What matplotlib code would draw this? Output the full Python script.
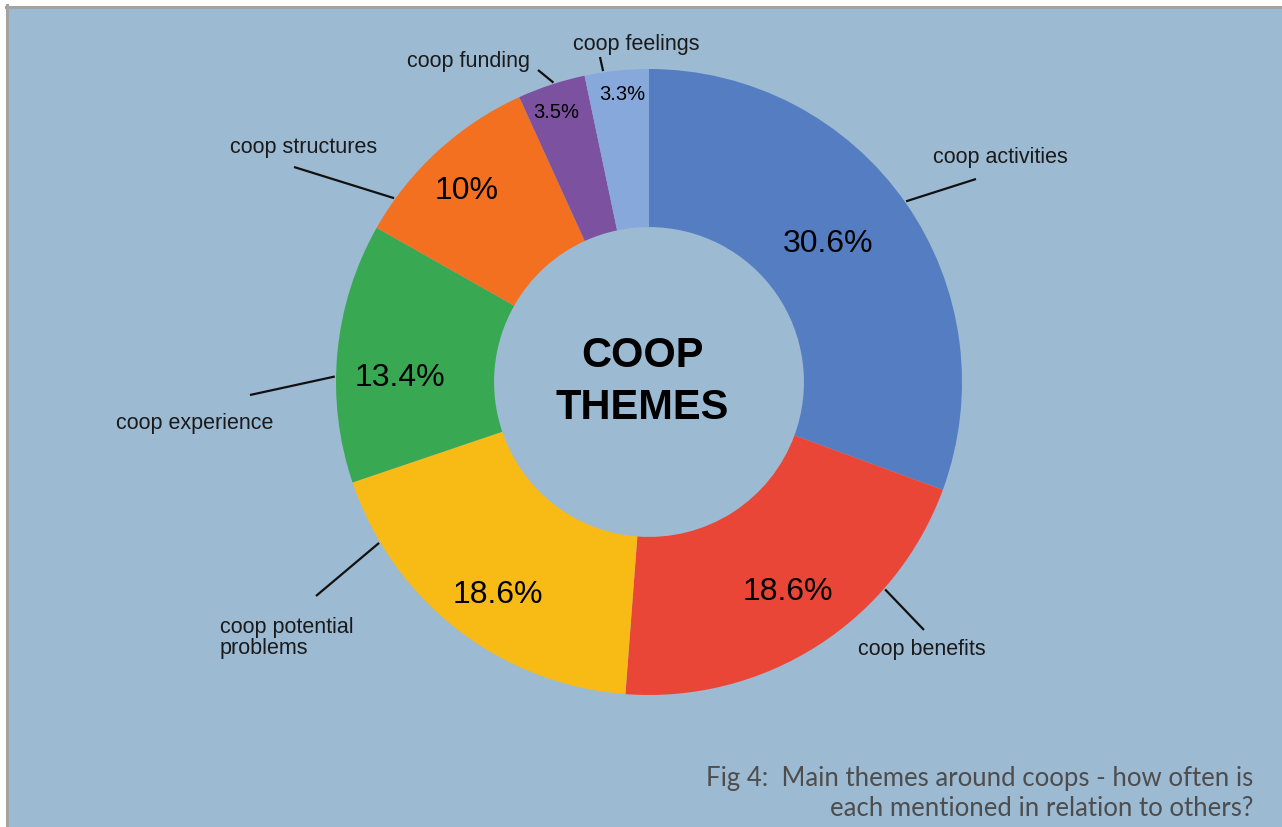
import numpy as np
import matplotlib
matplotlib.use('Agg')
import matplotlib.pyplot as plt
from matplotlib.patches import Rectangle

# data (wedge sizes, printed labels)
themes = ['coop activities', 'coop benefits', 'coop potential\nproblems',
          'coop experience', 'coop structures', 'coop funding', 'coop feelings']
shares = [30.6, 20.6, 18.6, 13.4, 10.0, 3.5, 3.3]
pct_text = ['30.6%', '18.6%', '18.6%', '13.4%', '10%', '3.5%', '3.3%']
colours = ['#557dc2', '#ea4637', '#f8bb15', '#39a852', '#f37021', '#7b51a0', '#86a8da']

# layout (pixels, y measured from top)
W, H = 1282, 828
cx, cy, R = 649, 383, 313
pct_xy = [(828, 244), (788, 592), (498, 595), (400, 378), (467, 191), (556, 113), (622, 94)]
pct_size = [23, 23, 23, 23, 23, 14.5, 14.5]
lead_ang = [35.1, -41.3, -149.2, 179.0, 144.2, 107.7, 98.4]
lead_end = [(976, 180), (924, 631), (316, 597), (250, 396), (294, 168), (538, 71), (600, 58)]
name_xy = [(933, 158), (858, 650), (220, 638), (116, 423), (230, 148), (407, 62), (573, 44)]

bg = '#9dbad3'
font = 'Liberation Sans'

def P(x, y):
    return x, H - y

fig = plt.figure(figsize=(W / 100, H / 100), dpi=100, facecolor='white')
ax = fig.add_axes([0, 0, 1, 1])
ax.patch.set_alpha(0)

# panel background with grey border on left and top
ax.add_patch(Rectangle((7, 0), W, H - 7, facecolor=bg, edgecolor='none', zorder=-10))
ax.plot([7, 7], [0, H - 6], color='#a3a3a3', lw=2.2, zorder=-5)
ax.plot([6, W], [H - 7.5, H - 7.5], color='#a3a3a3', lw=2.2, zorder=-5)

wedges, _ = ax.pie(shares, colors=colours, startangle=90, counterclock=False,
                   center=P(cx, cy), radius=R,
                   wedgeprops=dict(width=R * 0.505, linewidth=0))
ax.set_xlim(0, W)
ax.set_ylim(0, H)
ax.set_aspect('equal')
ax.axis('off')

x0, y0 = P(cx, cy)
for i, w in enumerate(wedges):
    ax.text(*P(*pct_xy[i]), pct_text[i], ha='center', va='center',
            fontsize=pct_size[i], family=font, color='black')

    a = np.deg2rad(lead_ang[i])
    sx, sy = x0 + 1.004 * R * np.cos(a), y0 + 1.004 * R * np.sin(a)
    ex, ey = P(*lead_end[i])
    ax.plot([sx, ex], [sy, ey], color='#111111', lw=1.6, solid_capstyle='butt')
    ax.text(*P(*name_xy[i]), themes[i], ha='left', va='center', fontsize=15.5,
            family=font, color='#1a1a1a', linespacing=1.05)

ax.text(*P(642, 356), 'COOP', ha='center', va='center', fontsize=30, fontweight='bold',
        family=font, color='black')
ax.text(*P(642, 408), 'THEMES', ha='center', va='center', fontsize=30, fontweight='bold',
        family=font, color='black')

ax.text(*P(1253, 779), 'Fig 4:  Main themes around coops - how often is', ha='right', va='center',
        fontsize=18.5, family='Lato', color='#4d4d4d')
ax.text(*P(1253, 809), 'each mentioned in relation to others?', ha='right', va='center',
        fontsize=18.5, family='Lato', color='#4d4d4d')

fig.savefig('out.png', dpi=100, facecolor='white')
